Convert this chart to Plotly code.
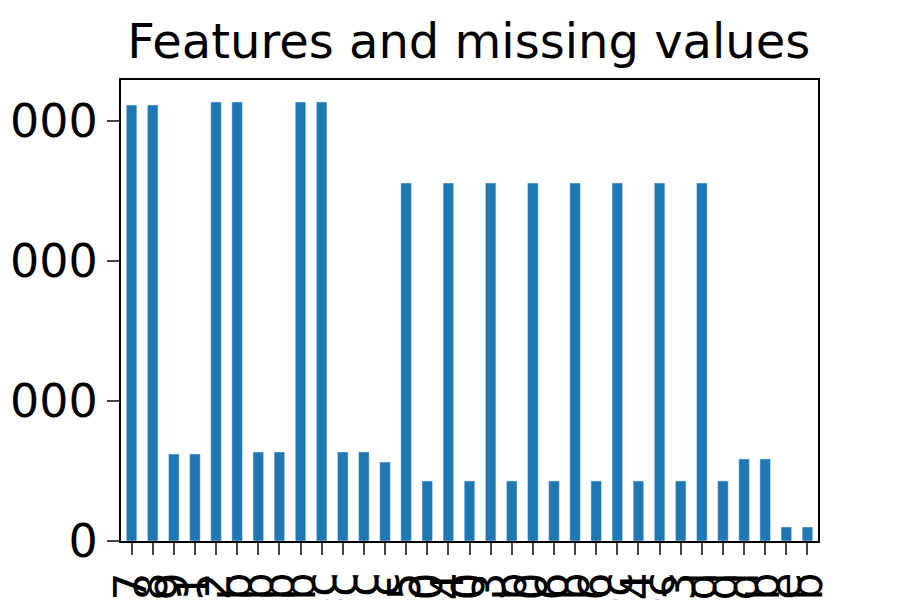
import plotly.graph_objects as go

features = ["feat_07","feat_08","feat_09","feat_11","feat_12","feat_08b","feat_09b","feat_11b","feat_12b",
            "feat_08c","feat_09c","feat_11c","feat_12c","feat_15","feat_20","feat_14","feat_10","feat_13",
            "feat_10b","feat_00","feat_16","feat_00b","feat_06","feat_00c","feat_04","feat_10c","feat_03",
            "feat_10d","feat_00d","feat_08d","feat_14b","feat_10e","feat_15b"]
missing = [3114,3114,621,621,3136,3136,636,636,3136,3136,636,636,564,2557,429,2557,429,2557,429,2557,429,
           2557,429,2557,429,2557,429,2557,429,586,586,100,100]

fig = go.Figure(go.Bar(x=features, y=missing, marker_color="#1f77b4", width=0.5))
fig.update_layout(
    width=900, height=600, plot_bgcolor="white", paper_bgcolor="white",
    margin=dict(l=113, r=90, t=72, b=67, autoexpand=False),
    font=dict(family="DejaVu Sans", size=46, color="black"),
    title=dict(text="Features and missing values", x=0.512, xanchor="center", y=0.945, yanchor="middle",
               font=dict(size=48), automargin=False),
    showlegend=False, bargap=0.5,
)
fig.update_xaxes(showline=True, linecolor="black", linewidth=2, mirror=True, ticks="outside",
                 ticklen=12, tickwidth=2, tickangle=-90, range=[-0.5, 32.5], tickmode="linear", dtick=1,
                 tickfont=dict(size=44), automargin=False)
fig.update_yaxes(showline=True, linecolor="black", linewidth=2, mirror=True, ticks="outside",
                 ticklen=12, tickwidth=2, range=[0, 3293], tickvals=[0,1000,2000,3000],
                 showgrid=False, zeroline=False, tickfont=dict(size=46), automargin=False)
fig.write_html("out.html")
